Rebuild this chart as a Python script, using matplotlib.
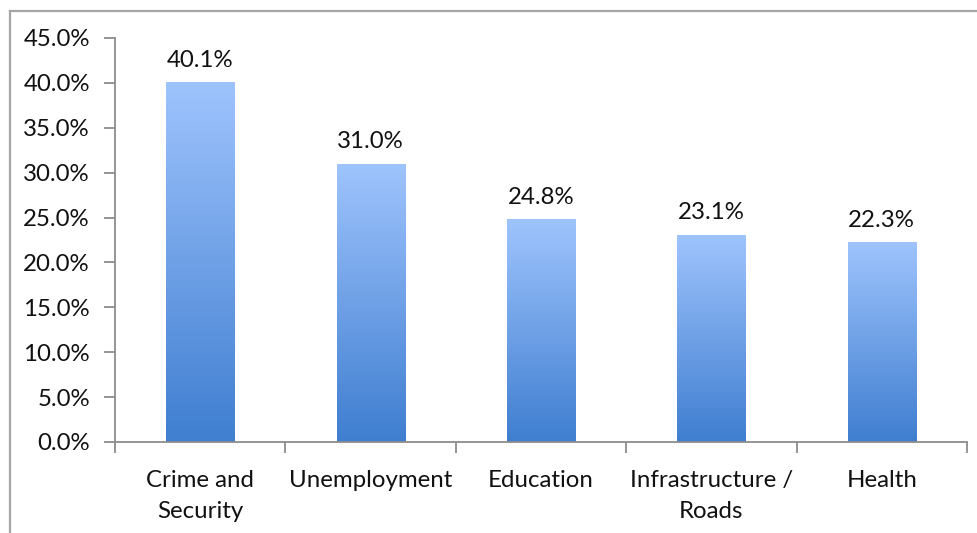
import numpy as np
import matplotlib
matplotlib.use("Agg")
import matplotlib.pyplot as plt
from matplotlib.colors import LinearSegmentedColormap
from matplotlib.lines import Line2D

categories = ["Crime and\nSecurity", "Unemployment", "Education",
              "Infrastructure /\nRoads", "Health"]
values = [40.1, 31.0, 24.8, 23.1, 22.3]
yticks = [0, 5, 10, 15, 20, 25, 30, 35, 40, 45]

plt.rcParams["font.family"] = ["Lato", "DejaVu Sans"]
fs = 17.3
axis_gray = "#8c8c8c"

fig = plt.figure(figsize=(9.78, 5.33), dpi=100)
ax = fig.add_axes([115 / 978, 1 - 442 / 533, (967 - 115) / 978, (442 - 38) / 533])

x = np.arange(len(values))
bars = ax.bar(x, values, width=0.4, color="none", edgecolor="none", zorder=2)

# vertical gradient fill for each bar: light at top, deeper blue at the base
cmap = LinearSegmentedColormap.from_list("barfill", ["#3f7ed0", "#9fc4fd"])
grad = np.linspace(0, 1, 256).reshape(-1, 1)
for b in bars:
    x0, w, h = b.get_x(), b.get_width(), b.get_height()
    im = ax.imshow(grad, cmap=cmap, origin="lower", aspect="auto",
                   extent=[x0, x0 + w, 0, h], zorder=2)
    im.set_clip_path(b)
    ax.text(x0 + w / 2, h + 1.25, f"{h:.1f}%", ha="center", va="bottom",
            fontsize=fs, color="#111111")

ax.set_xlim(-0.5, len(values) - 0.5)
ax.set_ylim(0, 45)
ax.set_yticks(yticks)
ax.set_yticklabels([f"{t:.1f}%" for t in yticks], fontsize=fs, color="#111111")

# category ticks sit between bars; labels centred under each bar
ax.set_xticks(np.arange(len(values) + 1) - 0.5)
ax.set_xticklabels([])
ax.set_xticks(x, minor=True)
ax.set_xticklabels(categories, minor=True, fontsize=fs, color="#111111",
                   linespacing=1.6)
ax.tick_params(axis="x", which="minor", length=0, pad=20)
ax.tick_params(axis="x", which="major", length=8, width=1.3, color=axis_gray,
               direction="out")
ax.tick_params(axis="y", length=8, width=1.3, color=axis_gray, pad=10,
               direction="out")

for side in ("top", "right"):
    ax.spines[side].set_visible(False)
for side in ("left", "bottom"):
    ax.spines[side].set_color(axis_gray)
    ax.spines[side].set_linewidth(1.3)

# frame around the chart area (left and top edges)
frame = "#a6a6a6"
fig.add_artist(Line2D([10 / 978, 10 / 978], [0, 1 - 11 / 533],
                      transform=fig.transFigure, color=frame, lw=1.6))
fig.add_artist(Line2D([10 / 978, 1], [1 - 11 / 533, 1 - 11 / 533],
                      transform=fig.transFigure, color=frame, lw=1.6))

fig.savefig("out.png", dpi=100)
